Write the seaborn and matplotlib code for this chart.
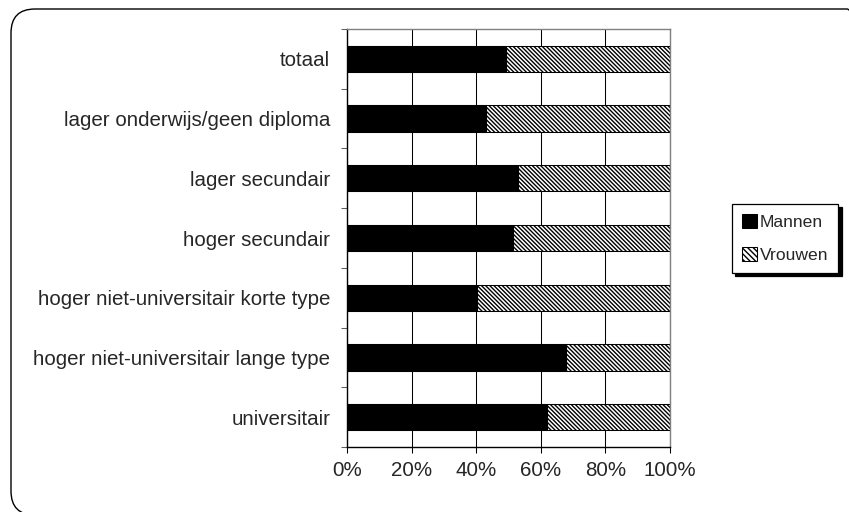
import pandas as pd
import matplotlib.pyplot as plt
import seaborn as sns
from matplotlib.patches import Patch, FancyBboxPatch

# ---------------- Data ----------------
categories = [
    "totaal",
    "lager onderwijs/geen diploma",
    "lager secundair",
    "hoger secundair",
    "hoger niet-universitair korte type",
    "hoger niet-universitair lange type",
    "universitair",
]
mannen = [49.2, 43.0, 52.8, 51.3, 40.1, 67.7, 62.0]
vrouwen = [50.8, 57.0, 47.2, 48.7, 59.9, 32.3, 38.0]
x_ticks = [0, 20, 40, 60, 80, 100]
x_labels = ["0%", "20%", "40%", "60%", "80%", "100%"]

df = pd.DataFrame({"categorie": categories, "Mannen": mannen, "Vrouwen": vrouwen})
df["totaal"] = df["Mannen"] + df["Vrouwen"]

# ---------------- Style ----------------
sns.set_style("white")
plt.rcParams["font.family"] = ["Liberation Sans", "DejaVu Sans"]
plt.rcParams["hatch.linewidth"] = 1.0
hatch = "\\" * 8

fig = plt.figure(figsize=(8.49, 5.12), dpi=100)
ax = fig.add_axes([347 / 849, 1 - 447 / 512, 323 / 849, 418 / 512])

# stacked 100% bars: full bar hatched (Vrouwen), Mannen drawn on top
sns.barplot(data=df, x="totaal", y="categorie", orient="h", color="white",
            edgecolor="black", linewidth=0.75, hatch=hatch, width=0.44,
            errorbar=None, ax=ax)
sns.barplot(data=df, x="Mannen", y="categorie", orient="h", color="black",
            edgecolor="black", linewidth=0.75, width=0.44, errorbar=None,
            saturation=1, ax=ax)

ax.set_xlim(0, 100)
ax.set_ylim(6.5, -0.5)
ax.set_xticks(x_ticks)
ax.set_xticklabels(x_labels)
ax.set_xlabel("")
ax.set_ylabel("")
ax.xaxis.grid(True, color="black", linewidth=0.75)
ax.yaxis.grid(False)
ax.set_axisbelow(True)

ax.tick_params(axis="x", direction="out", length=4, width=0.75, color="black",
               labelsize=14.8, pad=6, bottom=True)
ax.tick_params(axis="y", which="major", length=0, labelsize=14.8, pad=12)
ax.set_yticks([i + 0.5 for i in range(-1, len(categories))], minor=True)
ax.tick_params(axis="y", which="minor", direction="out", length=4, width=0.75,
               color="#606060", left=True)

for side in ["left", "bottom"]:
    ax.spines[side].set_color("black")
    ax.spines[side].set_linewidth(1.0)
for side in ["top", "right"]:
    ax.spines[side].set_color("#808080")
    ax.spines[side].set_linewidth(1.0)

# ---------------- Legend ----------------
handles = [
    Patch(facecolor="black", edgecolor="black", linewidth=0.75, label="Mannen"),
    Patch(facecolor="white", edgecolor="black", linewidth=0.75, hatch="\\" * 6, label="Vrouwen"),
]
leg = fig.legend(handles=handles, loc="upper left",
                 bbox_to_anchor=(732 / 849, 1 - 204 / 512), fontsize=12.6,
                 frameon=True, fancybox=False, edgecolor="black",
                 handlelength=0.85, handleheight=0.85, handletextpad=0.2,
                 labelspacing=1.0, borderpad=0.55, borderaxespad=0,
                 shadow={"color": "black", "alpha": 1, "ox": 2.5, "oy": -2.5})
leg.get_frame().set_linewidth(0.9)

# ---------------- Rounded chart border ----------------
border = FancyBboxPatch((0.11, -0.03), 8.60, 5.06,
                        boxstyle="round,pad=0,rounding_size=0.24",
                        transform=fig.dpi_scale_trans, facecolor="none",
                        edgecolor="black", linewidth=1.0, zorder=0)
fig.patches.append(border)

plt.savefig("out.png", dpi=100)
